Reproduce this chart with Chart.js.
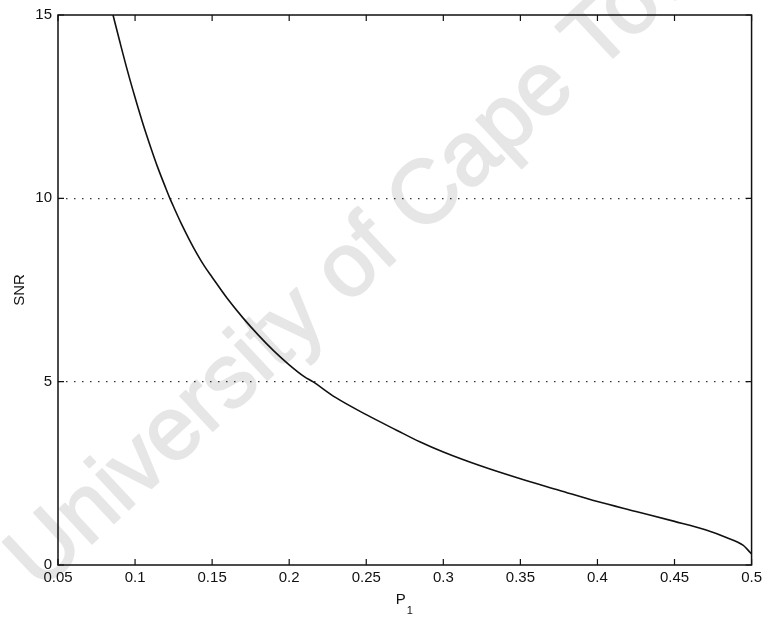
<!DOCTYPE html>
<html>
<head>
<meta charset="utf-8">
<script src="https://cdn.jsdelivr.net/npm/chart.js@4"></script>
<style>
  html, body { margin: 0; padding: 0; background: #fff; }
  #wrap { width: 766px; height: 618px; }
</style>
</head>
<body>
<div id="wrap"><canvas id="myChart" width="766" height="618"></canvas></div>
<script>
const p1 = [0.0857, 0.09, 0.095, 0.1, 0.105, 0.11, 0.115, 0.12, 0.1226, 0.125, 0.13, 0.135, 0.14, 0.145, 0.15, 0.16, 0.17, 0.18, 0.19, 0.2, 0.21, 0.2153, 0.23, 0.25, 0.27, 0.2847, 0.3, 0.325, 0.35, 0.375, 0.4, 0.425, 0.45, 0.47, 0.4836, 0.4944, 0.5]
const snr = [15, 14.29, 13.49, 12.75, 12.05, 11.41, 10.81, 10.27, 10.0, 9.77, 9.31, 8.89, 8.5, 8.15, 7.85, 7.26, 6.74, 6.27, 5.84, 5.46, 5.13, 5.0, 4.57, 4.1, 3.67, 3.36, 3.08, 2.69, 2.35, 2.04, 1.73, 1.46, 1.19, 0.96, 0.75, 0.54, 0.3]
const xTicks = [0.05, 0.1, 0.15, 0.2, 0.25, 0.3, 0.35, 0.4, 0.45, 0.5]
const yTicks = [0, 5, 10, 15]
const watermark = "University of Cape Town"

const font = "Liberation Sans, Arial, Helvetica, sans-serif"

// watermark behind everything, inward ticks, frame and axis titles on top
const decor = {
    id: "decor",
    beforeDraw(chart) {
        const ctx = chart.ctx
        ctx.save()
        ctx.translate(40, 592)
        ctx.rotate(-43 * Math.PI / 180)
        ctx.font = "90px " + font
        ctx.fillStyle = "#e6e6e6"
        ctx.strokeStyle = "#e6e6e6"
        ctx.lineWidth = 2
        ctx.lineJoin = "round"
        ctx.textBaseline = "alphabetic"
        ctx.fillText(watermark, 0, 0)
        ctx.strokeText(watermark, 0, 0)
        ctx.restore()
    },
    afterDraw(chart) {
        const ctx = chart.ctx
        const a = chart.chartArea
        const x = chart.scales.x, y = chart.scales.y
        ctx.save()
        ctx.strokeStyle = "#111"
        ctx.lineWidth = 1.2
        ctx.beginPath()
        xTicks.forEach(v => {
            const px = x.getPixelForValue(v)
            ctx.moveTo(px, a.bottom); ctx.lineTo(px, a.bottom - 6)
            ctx.moveTo(px, a.top); ctx.lineTo(px, a.top + 6)
        })
        yTicks.forEach(v => {
            const py = y.getPixelForValue(v)
            ctx.moveTo(a.left, py); ctx.lineTo(a.left + 6, py)
            ctx.moveTo(a.right, py); ctx.lineTo(a.right - 6, py)
        })
        ctx.stroke()
        ctx.lineWidth = 1.5
        ctx.strokeRect(a.left, a.top, a.right - a.left, a.bottom - a.top)

        ctx.fillStyle = "#111"
        const cx = (a.left + a.right) / 2
        ctx.font = "15px " + font
        ctx.textBaseline = "alphabetic"
        ctx.textAlign = "right"
        ctx.fillText("P", cx + 1, 604)
        ctx.textAlign = "left"
        ctx.font = "11px " + font
        ctx.fillText("1", cx + 2, 614)

        ctx.translate(24, (a.top + a.bottom) / 2)
        ctx.rotate(-Math.PI / 2)
        ctx.font = "15px " + font
        ctx.textAlign = "center"
        ctx.fillText("SNR", 0, 0)
        ctx.restore()
    }
}

new Chart("myChart", {
    type: "line",
    data: {
        datasets: [{
            data: p1.map((v, i) => ({x: v, y: snr[i]})),
            borderColor: "#111",
            borderWidth: 1.6,
            pointRadius: 0,
            fill: false,
            cubicInterpolationMode: "monotone",
        }]
    },
    options: {
        responsive: false,
        animation: false,
        layout: {padding: {left: 0, top: 14, right: 14, bottom: 0}},
        plugins: {legend: {display: false}, tooltip: {enabled: false}},
        scales: {
            x: {
                type: "linear",
                min: 0.05,
                max: 0.5,
                afterBuildTicks: s => { s.ticks = xTicks.map(v => ({value: v})) },
                afterFit: s => { s.height = 53 },
                grid: {display: false, drawTicks: false},
                border: {display: false},
                ticks: {
                    color: "#111",
                    font: {family: font, size: 15},
                    padding: 4,
                    maxRotation: 0,
                    autoSkip: false,
                    callback: v => String(v)
                }
            },
            y: {
                min: 0,
                max: 15,
                afterBuildTicks: s => { s.ticks = yTicks.map(v => ({value: v})) },
                afterFit: s => { s.width = 58 },
                grid: {
                    drawTicks: false,
                    lineWidth: 1.2,
                    color: c => (c.tick && (c.tick.value === 5 || c.tick.value === 10)) ? "#333" : "rgba(0,0,0,0)"
                },
                border: {display: false, dash: [1.5, 6.5]},
                ticks: {
                    color: "#111",
                    font: {family: font, size: 15},
                    padding: 6
                }
            }
        }
    },
    plugins: [decor]
})
</script>
</body>
</html>
